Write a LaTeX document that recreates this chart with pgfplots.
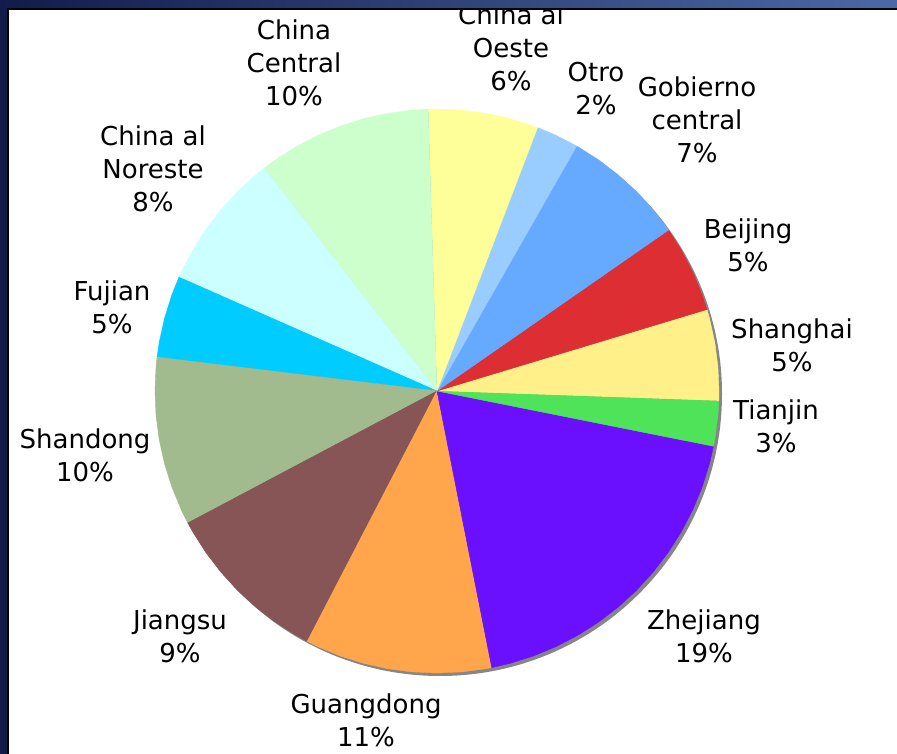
\documentclass[border=0pt]{standalone}
\usepackage{pgfplots}
\pgfplotsset{compat=1.18}
\usepgfplotslibrary{polar}
\usepackage{fontspec}
\setmainfont{DejaVu Sans}
\definecolor{cShanghai}{RGB}{255,240,138}
\definecolor{cBeijing}{RGB}{221,46,51}
\definecolor{cGobierno}{RGB}{102,170,255}
\definecolor{cOtro}{RGB}{153,204,255}
\definecolor{cOeste}{RGB}{255,255,153}
\definecolor{cCentral}{RGB}{204,255,204}
\definecolor{cNoreste}{RGB}{204,255,255}
\definecolor{cFujian}{RGB}{0,204,255}
\definecolor{cShandong}{RGB}{162,187,142}
\definecolor{cJiangsu}{RGB}{135,85,85}
\definecolor{cGuangdong}{RGB}{255,166,77}
\definecolor{cZhejiang}{RGB}{106,16,255}
\definecolor{cTianjin}{RGB}{79,227,90}
\definecolor{bgdark}{RGB}{18,28,75}
\definecolor{bglight}{RGB}{75,105,165}
\begin{document}
\begin{tikzpicture}[x=1pt,y=1pt]
\shade[left color=bgdark, right color=bglight] (0,0) rectangle (897,754);
\fill[white] (8,0) rectangle (897,745);
\draw[black, line width=1.5pt] (8,0) -- (8,745) -- (897,745);
\fill[gray!95] (440,360) circle (282);
\begin{polaraxis}[at={(437pt,363pt)}, anchor=center, scale only axis,
  width=564pt, height=564pt, hide axis, ymin=0, ymax=1, clip=false]
% Shanghai 5%
\addplot[fill=cShanghai, draw=cShanghai, line width=0.4pt] coordinates {(0,0) (-2,1) (0,1) (5,1) (10,1) (15,1) (16.8,1)};
% Beijing 5%
\addplot[fill=cBeijing, draw=cBeijing, line width=0.4pt] coordinates {(0,0) (16.8,1) (20,1) (25,1) (30,1) (34.8,1)};
% Gobierno central 7%
\addplot[fill=cGobierno, draw=cGobierno, line width=0.4pt] coordinates {(0,0) (34.8,1) (40,1) (45,1) (50,1) (55,1) (60,1) (60.3,1)};
% Otro 2%
\addplot[fill=cOtro, draw=cOtro, line width=0.4pt] coordinates {(0,0) (60.3,1) (65,1) (69.1,1)};
% China al Oeste 6%
\addplot[fill=cOeste, draw=cOeste, line width=0.4pt] coordinates {(0,0) (69.1,1) (75,1) (80,1) (85,1) (90,1) (91.8,1)};
% China Central 10%
\addplot[fill=cCentral, draw=cCentral, line width=0.4pt] coordinates {(0,0) (91.8,1) (95,1) (100,1) (105,1) (110,1) (115,1) (120,1) (125,1) (127.8,1)};
% China al Noreste 8%
\addplot[fill=cNoreste, draw=cNoreste, line width=0.4pt] coordinates {(0,0) (127.8,1) (130,1) (135,1) (140,1) (145,1) (150,1) (155,1) (156.2,1)};
% Fujian 5%
\addplot[fill=cFujian, draw=cFujian, line width=0.4pt] coordinates {(0,0) (156.2,1) (160,1) (165,1) (170,1) (173.1,1)};
% Shandong 10%
\addplot[fill=cShandong, draw=cShandong, line width=0.4pt] coordinates {(0,0) (173.1,1) (175,1) (180,1) (185,1) (190,1) (195,1) (200,1) (205,1) (207.9,1)};
% Jiangsu 9%
\addplot[fill=cJiangsu, draw=cJiangsu, line width=0.4pt] coordinates {(0,0) (207.9,1) (210,1) (215,1) (220,1) (225,1) (230,1) (235,1) (240,1) (242.6,1)};
% Guangdong 11%
\addplot[fill=cGuangdong, draw=cGuangdong, line width=0.4pt] coordinates {(0,0) (242.6,1) (245,1) (250,1) (255,1) (260,1) (265,1) (270,1) (275,1) (280,1) (281.2,1)};
% Zhejiang 19%
\addplot[fill=cZhejiang, draw=cZhejiang, line width=0.4pt] coordinates {(0,0) (281.2,1) (285,1) (290,1) (295,1) (300,1) (305,1) (310,1) (315,1) (320,1) (325,1) (330,1) (335,1) (340,1) (345,1) (348.7,1)};
% Tianjin 3%
\addplot[fill=cTianjin, draw=cTianjin, line width=0.4pt] coordinates {(0,0) (348.7,1) (350,1) (355,1) (358,1)};
\end{polaraxis}
\begin{scope}
\clip (8,0) rectangle (897,745);
\tikzset{lbl/.style={align=center, inner sep=0pt, font=\fontsize{26}{33}\selectfont}}
\node[lbl] at (294,691) {China\\Central\\10\%};
\node[lbl] at (511,706) {China al\\Oeste\\6\%};
\node[lbl] at (596,665.5) {Otro\\2\%};
\node[lbl] at (697,634) {Gobierno\\central\\7\%};
\node[lbl] at (748,508.5) {Beijing\\5\%};
\node[lbl] at (792,408.5) {Shanghai\\5\%};
\node[lbl] at (776,328) {Tianjin\\3\%};
\node[lbl] at (704,117.5) {Zhejiang\\19\%};
\node[lbl] at (366,33.5) {Guangdong\\11\%};
\node[lbl] at (180,117.5) {Jiangsu\\9\%};
\node[lbl] at (85,298.5) {Shandong\\10\%};
\node[lbl] at (112,446.5) {Fujian\\5\%};
\node[lbl] at (153,585) {China al\\Noreste\\8\%};
\end{scope}
\pgfresetboundingbox
\path[use as bounding box] (0,0) rectangle (897,754);
\end{tikzpicture}
\end{document}
